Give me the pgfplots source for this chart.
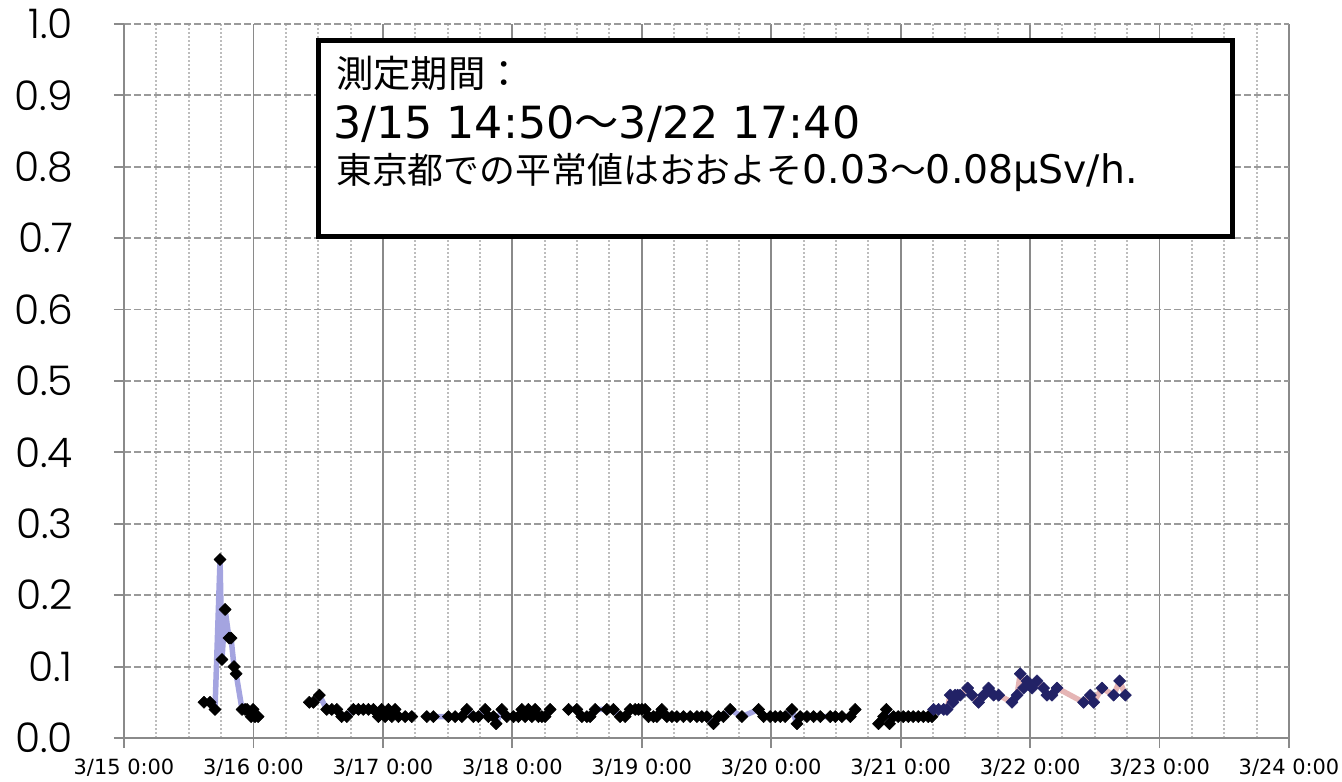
\documentclass[border=0pt]{standalone}
\usepackage{pgfplots}
\pgfplotsset{compat=1.18}
\usepackage{fontspec}
\setmainfont{DejaVu Sans}
\newfontfamily\cjk{Noto Sans CJK JP}
\newfontfamily\gothic{Poppins}[UprightFont=* Light]
\definecolor{gridmaj}{HTML}{8A8A8A}
\definecolor{gridmin}{HTML}{BDBDBD}
\definecolor{griddash}{HTML}{9A9A9A}
\definecolor{lineblue}{HTML}{A4A4E0}
\definecolor{linepink}{HTML}{E5B5B5}
\definecolor{navy}{HTML}{222266}

\begin{document}
\begin{tikzpicture}
\useasboundingbox (-124bp,-44bp) rectangle (1218bp,738bp);
\begin{axis}[
  scale only axis, width=1165bp, height=714bp,
  xmin=0, xmax=9, ymin=0, ymax=1,
  axis x line=bottom, axis y line=left,
  axis line style={-, draw=gridmaj, line width=1.8bp},
  xtick={0,1,2,3,4,5,6,7,8,9},
  xticklabels={3/15 0:00,3/16 0:00,3/17 0:00,3/18 0:00,3/19 0:00,3/20 0:00,3/21 0:00,3/22 0:00,3/23 0:00,3/24 0:00},
  minor x tick num=3,
  ytick={0,0.1,0.2,0.3,0.4,0.5,0.6,0.7,0.8,0.9,1.0},
  yticklabels={0.0,0.1,0.2,0.3,0.4,0.5,0.6,0.7,0.8,0.9,1.0},
  tick align=outside, major tick length=10bp, minor tick length=0pt,
  tick style={draw=gridmaj, line width=1.8bp},
  xmajorgrids, xminorgrids, ymajorgrids,
  major x grid style={solid, draw=gridmaj, line width=1.8bp},
  minor x grid style={draw=gridmin, line width=2bp, dash pattern=on 2bp off 2bp},
  major y grid style={draw=griddash, line width=1.8bp, dash pattern=on 7bp off 3bp},
  xticklabel style={font=\fontsize{21}{24}\selectfont, anchor=north, inner sep=0pt, yshift=-11bp},
  yticklabel style={font=\gothic\fontsize{41}{44}\selectfont, anchor=east, inner sep=0pt, xshift=-41bp},
  unbounded coords=jump,
]
% 3/15 14:50 - 3/21 (black markers)
\addplot[color=lineblue, line width=5.5bp, line join=round, mark=square*, mark size=4.3bp,
  mark options={rotate=45, fill=black, draw=black, line width=0.5bp}] coordinates {
(0.618,0.05)(0.665,0.05)(0.703,0.04)(0.742,0.25)(0.757,0.11)(0.781,0.18)(0.811,0.14)(0.827,0.14)
(0.850,0.10)(0.866,0.09)(0.912,0.04)(0.935,0.04)(0.951,0.04)(0.982,0.03)(0.997,0.04)(1.012,0.03)(1.036,0.03)
(1.2,nan)
(1.432,0.05)(1.463,0.05)(1.509,0.06)(1.566,0.04)(1.605,0.04)(1.644,0.04)(1.682,0.03)(1.721,0.03)
(1.772,0.04)(1.811,0.04)(1.849,0.04)(1.888,0.04)(1.927,0.04)(1.965,0.03)(1.991,0.04)(2.017,0.03)
(2.043,0.04)(2.069,0.03)(2.094,0.04)(2.120,0.03)(2.172,0.03)(2.223,0.03)
(2.28,nan)
(2.339,0.03)(2.390,0.03)(2.506,0.03)(2.558,0.03)(2.610,0.03)(2.648,0.04)(2.699,0.03)(2.738,0.03)
(2.790,0.04)(2.815,0.03)(2.854,0.03)(2.875,0.02)(2.919,0.04)(2.957,0.03)(3.009,0.03)(3.047,0.03)
(3.073,0.04)(3.099,0.03)(3.124,0.04)(3.151,0.03)(3.176,0.04)(3.202,0.03)(3.228,0.03)(3.253,0.03)(3.292,0.04)
(3.36,nan)
(3.434,0.04)(3.498,0.04)(3.537,0.03)(3.576,0.03)(3.601,0.03)(3.640,0.04)(3.730,0.04)(3.781,0.04)
(3.833,0.03)(3.872,0.03)(3.910,0.04)(3.949,0.04)(3.975,0.04)(4.001,0.04)(4.026,0.04)(4.052,0.03)
(4.090,0.03)(4.117,0.03)(4.155,0.04)(4.194,0.03)(4.233,0.03)(4.271,0.03)(4.322,0.03)(4.374,0.03)
(4.426,0.03)(4.464,0.03)(4.503,0.03)(4.554,0.02)(4.593,0.03)(4.631,0.03)(4.683,0.04)(4.774,0.03)
(4.902,0.04)(4.941,0.03)(4.992,0.03)(5.031,0.03)(5.070,0.03)(5.108,0.03)(5.160,0.04)(5.199,0.02)
(5.224,0.03)(5.276,0.03)(5.327,0.03)(5.379,0.03)(5.456,0.03)(5.495,0.03)(5.546,0.03)(5.611,0.03)(5.649,0.04)
(5.74,nan)
(5.829,0.02)(5.868,0.03)(5.889,0.04)(5.914,0.02)(5.945,0.03)(5.981,0.03)(6.020,0.03)(6.059,0.03)
(6.097,0.03)(6.136,0.03)(6.175,0.03)(6.213,0.03)(6.242,0.03)
};
% 3/21 - 3/22 17:40 (navy markers)
\addplot[color=linepink, line width=5.5bp, line join=round, mark=square*, mark size=4.3bp,
  mark options={rotate=45, fill=navy, draw=navy, line width=0.5bp}] coordinates {
(6.254,0.04)(6.293,0.04)(6.332,0.04)(6.358,0.04)(6.383,0.06)(6.404,0.05)(6.420,0.06)(6.440,0.06)
(6.460,0.06)(6.517,0.07)(6.551,0.06)(6.602,0.05)(6.641,0.06)(6.679,0.07)(6.718,0.06)(6.757,0.06)
(6.860,0.05)(6.899,0.06)(6.924,0.09)(6.950,0.07)(6.976,0.08)(7.015,0.07)(7.053,0.08)(7.104,0.07)
(7.130,0.06)(7.169,0.06)(7.208,0.07)(7.413,0.05)(7.465,0.06)(7.491,0.05)(7.555,0.07)(7.645,0.06)
(7.692,0.08)(7.736,0.06)
};
\draw[line width=5bp, fill=white] (rel axis cs:0.1670,0.7024) rectangle (rel axis cs:0.9511,0.9762);
\node[anchor=base west, inner sep=0pt, font=\cjk\fontsize{37.5}{44}\selectfont]
  at (rel axis cs:0.1820,0.9111) {測定期間：};
\node[anchor=base west, inner sep=0pt, font=\fontsize{44.5}{50}\selectfont]
  at (rel axis cs:0.1794,0.8403) {3/15 14:50{\cjk ～}3/22 17:40};
\node[anchor=base west, inner sep=0pt, font=\fontsize{36}{42}\selectfont]
  at (rel axis cs:0.1820,0.7773) {{\cjk 東京都での平常値はおおよそ}{\fontsize{39.5}{42}\selectfont 0.03}{\cjk ～}{\fontsize{39.5}{42}\selectfont 0.08μSv/h.}};
\end{axis}
\end{tikzpicture}
\end{document}
